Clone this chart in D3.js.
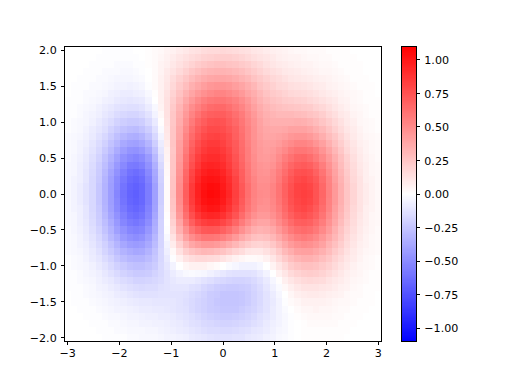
<!DOCTYPE html>
<html><head><meta charset="utf-8">
<script src="https://cdnjs.cloudflare.com/ajax/libs/d3/7.8.5/d3.min.js"></script>
<style>html,body{margin:0;padding:0;background:#fff}svg{display:block}text{font-family:"DejaVu Sans";font-size:11.11px;fill:#000}</style>
</head><body><svg id="c" width="512" height="384"></svg>
<script>
const xCenters = d3.range(51).map(i => -3 + i * 0.12);
const yCenters = d3.range(41).map(i => 2 - i * 0.1);
const xTicks = [-3,-2,-1,0,1,2,3];
const yTicks = [-2,-1.5,-1,-0.5,0,0.5,1,1.5,2];
const cbTicks = [-1,-0.75,-0.5,-0.25,0,0.25,0.5,0.75,1];
const colorLimit = 1.1;
// cell values in hundredths, top row (y = 2.0) first
const zRows = [
[0,0,0,0,0,0,-1,-1,-1,-1,-1,0,0,1,2,3,5,6,8,10,12,13,15,16,16,17,16,15,14,13,11,10,8,7,6,5,4,3,3,2,2,2,1,1,1,1,0,0,0,0,0],
[0,0,0,0,0,-1,-1,-1,-1,-1,-1,-1,0,1,2,4,6,8,11,13,15,17,19,20,21,21,21,20,18,16,14,12,11,9,7,6,5,5,4,3,3,2,2,1,1,1,1,0,0,0,0],
[0,0,0,0,-1,-1,-1,-1,-2,-2,-2,-1,-1,1,2,5,7,10,13,16,19,22,24,26,27,27,26,25,23,21,18,16,13,11,9,8,7,6,5,5,4,3,3,2,1,1,1,1,0,0,0],
[0,0,0,-1,-1,-1,-2,-2,-2,-3,-3,-2,-1,0,2,5,9,12,16,20,24,27,30,32,33,33,32,30,28,25,22,19,16,14,12,10,9,8,7,6,5,4,4,3,2,1,1,1,0,0,0],
[0,0,-1,-1,-1,-2,-2,-3,-4,-4,-4,-3,-2,0,2,6,10,15,20,24,29,33,36,38,39,39,38,36,33,30,26,23,20,17,15,13,11,10,9,8,7,6,5,4,3,2,1,1,1,0,0],
[0,-1,-1,-1,-2,-2,-3,-4,-5,-5,-6,-5,-4,-1,2,6,11,17,23,28,34,38,42,45,46,46,45,42,39,35,31,26,23,20,17,16,14,13,12,11,9,8,6,5,4,3,2,1,1,1,0],
[0,-1,-1,-2,-2,-3,-4,-6,-7,-8,-8,-7,-6,-3,1,6,12,19,26,33,39,44,48,51,53,53,51,48,44,39,35,30,26,23,21,19,17,16,15,14,12,10,8,7,5,4,3,2,1,1,0],
[-1,-1,-1,-2,-3,-4,-6,-7,-9,-10,-11,-10,-9,-5,0,6,13,21,29,37,44,50,55,58,59,59,57,54,49,44,38,33,29,26,24,22,21,20,19,17,15,13,11,9,6,5,3,2,1,1,1],
[-1,-1,-2,-3,-4,-6,-8,-10,-12,-13,-14,-14,-12,-8,-3,5,13,23,32,41,49,55,60,64,65,65,62,58,53,47,41,36,32,29,27,26,25,24,23,22,19,17,14,11,8,6,4,3,2,1,1],
[-1,-1,-2,-4,-5,-7,-10,-12,-15,-17,-18,-18,-16,-12,-5,3,13,24,34,44,53,60,66,69,70,70,67,62,57,50,44,38,34,32,30,30,30,29,28,26,24,21,17,14,10,8,5,4,2,1,1],
[-1,-2,-3,-4,-6,-9,-12,-15,-19,-21,-23,-23,-21,-16,-9,1,12,24,36,47,57,65,70,74,75,74,70,65,59,52,46,40,36,34,34,34,34,35,34,32,29,25,21,17,13,9,7,4,3,2,1],
[-1,-2,-3,-5,-8,-11,-14,-19,-23,-26,-28,-29,-26,-21,-13,-2,11,25,38,50,61,69,74,78,78,77,73,68,61,54,47,41,38,37,37,38,40,40,40,38,34,30,25,20,15,11,8,5,3,2,1],
[-2,-3,-4,-6,-9,-13,-17,-22,-27,-31,-34,-35,-32,-26,-17,-5,10,25,39,53,64,72,78,81,82,80,76,69,62,54,47,42,39,39,40,42,45,46,46,44,40,35,29,24,18,13,9,6,4,3,2],
[-2,-3,-5,-7,-11,-15,-20,-26,-31,-37,-40,-41,-38,-32,-21,-8,8,25,41,55,67,76,82,85,85,82,77,71,63,55,48,43,41,41,43,47,50,53,53,51,46,41,34,27,21,15,11,7,5,3,2],
[-2,-3,-5,-8,-12,-17,-23,-29,-36,-42,-46,-47,-44,-37,-26,-11,6,24,42,57,70,79,85,88,88,85,80,72,64,56,48,44,42,43,47,51,56,59,59,57,53,46,39,31,24,17,12,8,5,3,2],
[-2,-4,-6,-9,-14,-19,-26,-33,-40,-47,-51,-53,-50,-43,-30,-14,5,25,43,60,73,83,89,91,91,88,82,74,65,56,49,44,43,45,50,56,61,65,66,63,58,51,43,35,27,20,14,9,6,4,2],
[-3,-4,-7,-10,-15,-21,-28,-36,-44,-51,-57,-58,-55,-47,-34,-17,4,25,45,62,76,86,93,95,94,91,84,76,67,58,50,46,45,47,53,60,66,70,71,69,64,56,47,38,29,21,15,10,7,4,3],
[-3,-4,-7,-11,-16,-22,-30,-39,-47,-55,-61,-63,-60,-51,-37,-19,3,25,46,65,80,90,96,99,98,94,87,78,69,59,51,47,46,50,56,63,70,75,76,74,68,60,50,40,31,23,16,11,7,4,3],
[-3,-5,-7,-11,-17,-23,-32,-41,-50,-58,-64,-66,-63,-54,-39,-20,2,26,48,67,82,93,100,102,101,97,90,81,70,60,53,48,48,51,58,66,73,78,80,77,72,63,53,42,33,24,17,12,7,5,3],
[-3,-5,-8,-12,-17,-24,-33,-42,-51,-60,-66,-68,-65,-56,-41,-21,2,26,49,69,85,96,102,105,104,99,92,82,72,62,54,49,49,53,60,68,75,81,82,80,74,65,54,44,34,25,18,12,8,5,3],
[-3,-5,-8,-12,-17,-24,-33,-42,-52,-61,-67,-69,-65,-56,-41,-21,2,27,50,70,85,96,103,106,105,100,93,83,73,62,54,50,49,53,60,68,76,81,83,81,74,66,55,44,34,25,18,12,8,5,3],
[-3,-5,-8,-12,-17,-24,-33,-42,-51,-60,-66,-68,-65,-56,-41,-21,2,26,49,69,84,95,102,104,103,99,91,82,71,61,53,49,48,52,59,67,75,80,82,80,74,65,54,44,34,25,18,12,8,5,3],
[-3,-5,-7,-11,-17,-23,-32,-41,-50,-58,-64,-66,-63,-54,-40,-20,2,25,47,66,81,92,98,101,100,95,88,79,69,59,52,47,47,51,57,65,73,78,80,77,71,63,53,42,33,24,17,12,7,5,3],
[-3,-4,-7,-11,-16,-22,-30,-39,-47,-55,-61,-63,-60,-52,-38,-20,1,23,44,62,76,86,92,94,93,89,82,74,64,55,48,44,44,48,54,62,69,74,76,73,68,60,50,40,31,23,16,11,7,4,3],
[-3,-4,-7,-10,-15,-21,-28,-36,-44,-52,-57,-59,-56,-49,-36,-19,0,20,39,56,69,78,83,85,84,80,74,66,57,49,42,39,39,43,50,57,64,69,70,68,63,56,47,38,29,21,15,10,7,4,3],
[-2,-4,-6,-9,-14,-19,-26,-33,-41,-47,-52,-54,-52,-45,-34,-19,-1,17,34,48,60,67,72,73,72,68,63,56,48,41,35,33,34,37,44,51,58,62,64,62,58,51,43,34,26,19,14,9,6,4,2],
[-2,-3,-5,-8,-12,-17,-23,-30,-36,-43,-47,-49,-47,-41,-31,-18,-3,12,27,40,49,55,59,59,58,55,50,44,37,32,27,26,27,31,37,44,50,55,57,55,51,45,38,31,24,17,12,8,5,3,2],
[-2,-3,-5,-7,-11,-15,-20,-26,-32,-38,-42,-43,-42,-37,-29,-18,-5,8,20,30,38,42,45,45,43,40,36,31,26,22,19,18,20,24,30,37,43,47,49,48,45,40,33,27,21,15,11,7,5,3,2],
[-2,-3,-4,-6,-9,-13,-18,-23,-28,-33,-36,-38,-37,-33,-26,-17,-7,3,13,21,26,29,31,30,28,26,22,18,15,11,10,10,13,17,23,30,35,40,41,41,38,34,29,23,18,13,9,6,4,3,2],
[-1,-2,-3,-5,-8,-11,-15,-19,-24,-28,-31,-32,-32,-29,-24,-17,-9,-1,6,12,15,17,17,16,15,12,9,6,4,2,2,3,6,11,17,23,28,32,34,34,32,28,24,19,15,11,8,5,3,2,1],
[-1,-2,-3,-4,-6,-9,-12,-16,-20,-23,-26,-27,-27,-25,-22,-16,-11,-5,0,4,6,6,6,4,2,0,-2,-4,-6,-6,-6,-4,0,5,11,16,22,25,27,27,26,23,20,16,12,9,6,4,3,2,1],
[-1,-1,-2,-4,-5,-7,-10,-13,-16,-19,-21,-23,-23,-22,-19,-16,-12,-8,-5,-3,-2,-3,-4,-6,-8,-10,-12,-13,-13,-13,-12,-9,-5,0,6,11,16,19,21,22,21,19,16,13,10,7,5,4,2,1,1],
[-1,-1,-2,-3,-4,-6,-8,-10,-13,-15,-17,-19,-19,-18,-17,-15,-12,-10,-8,-8,-8,-10,-12,-14,-16,-17,-18,-19,-19,-18,-16,-13,-9,-4,1,7,11,14,16,17,16,15,12,10,8,6,4,3,2,1,1],
[-1,-1,-1,-2,-3,-5,-6,-8,-10,-12,-14,-15,-16,-15,-15,-13,-12,-11,-11,-11,-13,-14,-17,-19,-21,-22,-23,-23,-22,-21,-18,-15,-11,-6,-2,3,7,10,12,12,12,11,10,8,6,5,3,2,1,1,1],
[0,-1,-1,-2,-3,-4,-5,-6,-8,-9,-11,-12,-13,-13,-13,-12,-12,-12,-12,-13,-15,-17,-19,-22,-23,-25,-25,-25,-24,-22,-19,-16,-12,-8,-4,0,4,7,8,9,9,8,7,6,5,3,2,2,1,1,0],
[0,-1,-1,-1,-2,-3,-4,-5,-6,-7,-8,-9,-10,-10,-11,-11,-11,-11,-12,-14,-16,-18,-20,-22,-24,-25,-25,-25,-24,-22,-19,-16,-12,-9,-5,-1,2,4,6,6,6,6,5,4,3,3,2,1,1,1,0],
[0,0,-1,-1,-1,-2,-3,-4,-5,-5,-6,-7,-8,-8,-9,-9,-10,-11,-12,-13,-16,-18,-20,-22,-23,-24,-24,-24,-22,-20,-18,-15,-12,-8,-5,-2,0,2,4,4,5,4,4,3,2,2,1,1,1,0,0],
[0,0,0,-1,-1,-1,-2,-3,-3,-4,-5,-5,-6,-7,-7,-8,-8,-9,-11,-12,-14,-16,-18,-20,-21,-22,-22,-21,-20,-18,-16,-13,-11,-8,-5,-3,-1,1,2,3,3,3,3,2,2,1,1,1,0,0,0],
[0,0,0,0,-1,-1,-1,-2,-2,-3,-4,-4,-5,-5,-6,-6,-7,-8,-9,-11,-13,-14,-16,-17,-18,-19,-19,-18,-17,-16,-14,-12,-9,-7,-5,-3,-1,0,1,2,2,2,2,2,1,1,1,0,0,0,0],
[0,0,0,0,0,-1,-1,-1,-2,-2,-3,-3,-3,-4,-4,-5,-6,-7,-8,-9,-11,-12,-14,-15,-15,-16,-16,-15,-14,-13,-11,-10,-8,-6,-4,-3,-1,0,1,1,1,1,1,1,1,1,0,0,0,0,0],
[0,0,0,0,0,0,-1,-1,-1,-1,-2,-2,-3,-3,-3,-4,-5,-5,-6,-7,-9,-10,-11,-12,-13,-13,-13,-12,-12,-10,-9,-8,-6,-5,-3,-2,-1,0,1,1,1,1,1,1,1,0,0,0,0,0,0]
];

const box = {l:64.5, r:381.5, t:46.5, b:341.5};
const cb = {l:401.5, r:416.5, t:46.5, b:341.5};
const x = d3.scaleLinear().domain([-3.06,3.06]).range([box.l,box.r]);
const y = d3.scaleLinear().domain([-2.05,2.05]).range([box.b,box.t]);
const cy = d3.scaleLinear().domain([-colorLimit,colorLimit]).range([cb.b,cb.t]);
const color = d3.scaleLinear().domain([-colorLimit,0,colorLimit]).range(["#0000ff","#ffffff","#ff0000"]);
const svg = d3.select("#c");
const cells = zRows.flatMap((r,j)=>r.map((v,i)=>({x:xCenters[i],y:yCenters[j],v:v/100})));
svg.append("g").attr("shape-rendering","crispEdges").selectAll("rect").data(cells).join("rect")
  .attr("x",d=>x(d.x-0.06)).attr("width",d=>x(d.x+0.06)-x(d.x-0.06))
  .attr("y",d=>y(d.y+0.05)).attr("height",d=>y(d.y-0.05)-y(d.y+0.05))
  .attr("fill",d=>color(d.v));
const levels = d3.range(256).map(i=>-colorLimit+2*colorLimit*i/256);
svg.append("g").attr("shape-rendering","crispEdges").selectAll("rect").data(levels).join("rect")
  .attr("x",cb.l).attr("width",cb.r-cb.l)
  .attr("y",d=>cy(d+2*colorLimit/256)).attr("height",d=>cy(d)-cy(d+2*colorLimit/256))
  .attr("fill",d=>color(d+colorLimit/256));
function style(g){g.selectAll("path").remove();g.selectAll("line").attr("stroke","#000").attr("stroke-width",1).attr("shape-rendering","crispEdges");g.selectAll("text").attr("fill","#000");}
svg.append("g").attr("transform",`translate(0,${box.b})`).call(d3.axisBottom(x).offset(0).tickValues(xTicks).tickFormat(d3.format("d")).tickSize(3.9).tickPadding(3.9)).call(style);
svg.append("g").attr("transform",`translate(${box.l},0)`).call(d3.axisLeft(y).offset(0).tickValues(yTicks).tickFormat(d3.format(".1f")).tickSize(3.9).tickPadding(3.9)).call(style).selectAll("text").attr("y",0.8);
svg.append("g").attr("transform",`translate(${cb.r},0)`).call(d3.axisRight(cy).offset(0).tickValues(cbTicks).tickFormat(d3.format(".2f")).tickSize(3.9).tickPadding(3.9)).call(style).selectAll("text").attr("y",0.8);
[box,cb].forEach(b=>svg.append("rect").attr("x",b.l).attr("y",b.t).attr("width",b.r-b.l).attr("height",b.b-b.t).attr("fill","none").attr("stroke","#000").attr("stroke-width",1).attr("shape-rendering","crispEdges"));
svg.selectAll("g text").attr("font-family","DejaVu Sans").attr("font-size",11.11);
</script></body></html>
